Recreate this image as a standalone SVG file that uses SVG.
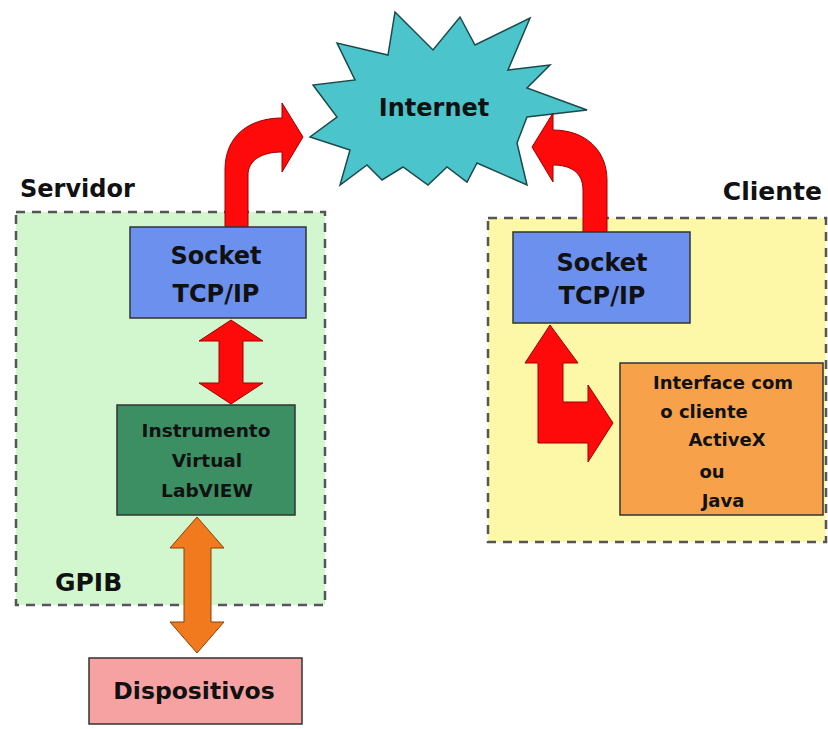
<svg xmlns="http://www.w3.org/2000/svg" width="828" height="729" viewBox="0 0 828 729">
<style>
.t{font-family:"DejaVu Sans","Liberation Sans",sans-serif;font-weight:bold;fill:#111;}
.c{text-anchor:middle;}
.box{stroke:#333;stroke-width:1.5;}
.zone{stroke:#555;stroke-width:2.5;stroke-dasharray:9 7;}
.red{fill:#ff0a0a;stroke:#9a0000;stroke-width:1;}
.org{fill:#f27a1e;stroke:#8a4000;stroke-width:1;}
</style>
<rect width="828" height="729" fill="#ffffff"/>
<g id="servidor">
<rect class="zone" x="16" y="212" width="309" height="393" fill="#d2f7cf"/>
<text class="t" x="20" y="197" font-size="24">Servidor</text>
<text class="t" x="55" y="591" font-size="25">GPIB</text>
</g>
<g id="cliente">
<rect class="zone" x="488" y="218" width="338" height="324" fill="#fcf8a8"/>
<text class="t" x="822" y="200" font-size="25" text-anchor="end">Cliente</text>
</g>
<g id="internet">
<polygon points="395,12 433,50 460,17 475,45 530,18 508,70 550,65 527,88 587,110 527,117 517,143 527,185 477,163 467,182 447,167 428,185 403,167 382,180 367,165 340,185 350,150 310,137 337,117 313,85 355,80 337,43 388,55" fill="#4cc4cc" stroke="#1c4a4a" stroke-width="1.5"/>
<text class="t c" x="434" y="116" font-size="24">Internet</text>
</g>
<g id="connectors">
<path class="red" d="M225,228 L225,170 C225,135 250,118 282,118 L282,103 L303,137 L282,172 L282,152 C262,152 248,160 248,175 L248,228 Z"/>
<path class="red" d="M607,233 L607,180 C607,150 585,130 553,130 L553,113 L532,147 L553,182 L553,165 C570,165 583,172 583,190 L583,233 Z"/>
<path class="red" d="M231,320 L263,341 L243,341 L243,383 L263,383 L231,404 L199,383 L219,383 L219,341 L199,341 Z"/>
<path class="red" d="M550,325 L578,363 L563,363 L563,402 L588,402 L588,385 L613,423 L588,462 L588,443 L538,443 L538,363 L525,363 Z"/>
<path class="org" d="M197,517 L224,548 L211,548 L211,622 L224,622 L197,653 L170,622 L184,622 L184,548 L170,548 Z"/>
</g>
<g id="socket-servidor">
<rect class="box" x="130" y="227" width="176" height="91" fill="#6b90ee"/>
<text class="t c" x="216" y="264" font-size="24">Socket</text>
<text class="t c" x="216" y="302" font-size="24">TCP/IP</text>
</g>
<g id="instrumento">
<rect class="box" x="117" y="405" width="178" height="110" fill="#3b8f62"/>
<text class="t c" x="206" y="437" font-size="18.5">Instrumento</text>
<text class="t c" x="207" y="467" font-size="18.5">Virtual</text>
<text class="t c" x="207" y="497" font-size="18.5">LabVIEW</text>
</g>
<g id="dispositivos">
<rect class="box" x="89" y="658" width="213" height="66" fill="#f6a2a2"/>
<text class="t c" x="194" y="699" font-size="23.5">Dispositivos</text>
</g>
<g id="socket-cliente">
<rect class="box" x="513" y="232" width="177" height="91" fill="#6b90ee"/>
<text class="t c" x="602" y="271" font-size="24">Socket</text>
<text class="t c" x="602" y="304" font-size="24">TCP/IP</text>
</g>
<g id="interface">
<rect class="box" x="620" y="363" width="203" height="152" fill="#f7a24a"/>
<text class="t c" x="723" y="389" font-size="18">Interface com</text>
<text class="t c" x="704" y="418" font-size="18">o cliente</text>
<text class="t c" x="727" y="446" font-size="18">ActiveX</text>
<text class="t c" x="712" y="478" font-size="18">ou</text>
<text class="t c" x="723" y="507" font-size="18">Java</text>
</g>
</svg>
